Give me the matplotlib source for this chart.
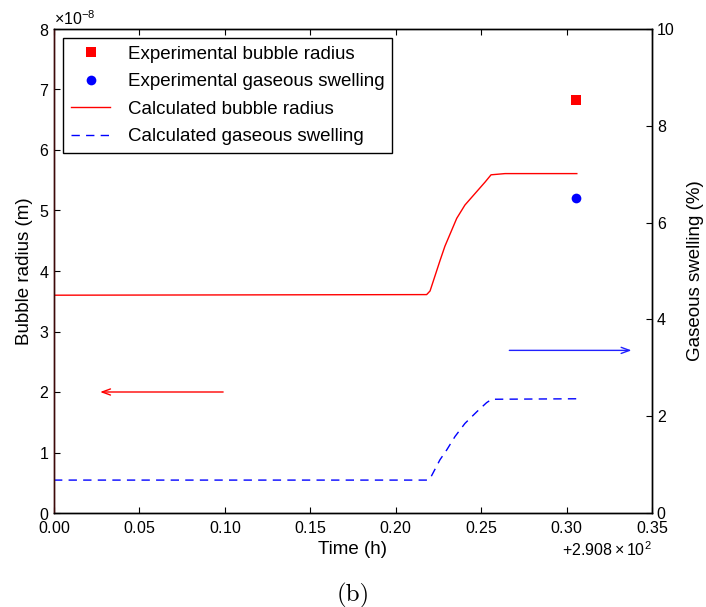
import numpy as np
import matplotlib
matplotlib.use('Agg')
import matplotlib.pyplot as plt
from matplotlib.ticker import MultipleLocator, ScalarFormatter

plt.rcParams['font.family'] = ['Liberation Sans', 'DejaVu Sans']
plt.rcParams['mathtext.fontset'] = 'custom'
plt.rcParams['mathtext.rm'] = 'Liberation Sans'
plt.rcParams['mathtext.it'] = 'Liberation Sans:italic'
plt.rcParams['mathtext.bf'] = 'Liberation Sans:bold'

# ---- data ----
time_base = 290.8  # h
# calculated bubble radius (time offset in h, radius in 1e-8 m)
calc_radius_t = [0.0, 0.2181, 0.2201, 0.2230, 0.2259, 0.2288, 0.2318, 0.2357, 0.2405,
                 0.2464, 0.2523, 0.2558, 0.2640, 0.306]
calc_radius_v = [3.60, 3.61, 3.67, 3.92, 4.17, 4.41, 4.61, 4.87, 5.09,
                 5.28, 5.47, 5.59, 5.61, 5.61]
# calculated gaseous swelling (%)
calc_swell_t = [0.0, 0.2185, 0.2201, 0.2259, 0.2298, 0.2347, 0.2405, 0.2474, 0.2532, 0.2562, 0.306]
calc_swell_v = [0.68, 0.68, 0.71, 1.10, 1.30, 1.58, 1.85, 2.09, 2.28, 2.35, 2.36]
# experimental points
exp_t = [0.3055]
exp_radius_v = [6.83]   # 1e-8 m
exp_swell_v = [6.50]    # %
# axis-indicating arrows (start, end, level)
red_arrow = (0.099, 0.027, 2.0)
blue_arrow = (0.2665, 0.338, 3.36)

labels = ['Experimental bubble radius', 'Experimental gaseous swelling',
          'Calculated bubble radius', 'Calculated gaseous swelling']

# ---- figure ----
fig = plt.figure(figsize=(7.06, 6.07), dpi=100)
ax = fig.add_axes([54/706, 94/607, 598/706, 484/607])
ax2 = ax.twinx()

t_r = time_base + np.array(calc_radius_t)
t_s = time_base + np.array(calc_swell_t)
t_e = time_base + np.array(exp_t)

h1, = ax.plot(t_e, np.array(exp_radius_v) * 1e-8, linestyle='none', marker='s',
              color='red', markersize=7, markeredgewidth=0)
h3, = ax.plot(t_r, np.array(calc_radius_v) * 1e-8, color='red', lw=1.0)
h2, = ax2.plot(t_e, exp_swell_v, linestyle='none', marker='o', color='blue',
               markersize=7, markeredgewidth=0)
h4, = ax2.plot(t_s, calc_swell_v, color='blue', lw=1.0, linestyle=(0, (6, 4.5)))

ax.annotate('', xy=(time_base + red_arrow[1], red_arrow[2] * 1e-8),
            xytext=(time_base + red_arrow[0], red_arrow[2] * 1e-8),
            arrowprops=dict(arrowstyle='->,head_length=0.6,head_width=0.22',
                            color='red', lw=1.0, shrinkA=0, shrinkB=0))
ax2.annotate('', xy=(time_base + blue_arrow[1], blue_arrow[2]),
             xytext=(time_base + blue_arrow[0], blue_arrow[2]),
             arrowprops=dict(arrowstyle='->,head_length=0.6,head_width=0.22',
                             color='#2020ff', lw=1.0, shrinkA=0, shrinkB=0))

ax.set_xlim(time_base, time_base + 0.35)
ax.set_ylim(0, 8e-8)
ax2.set_ylim(0, 10)

ax.xaxis.set_major_locator(MultipleLocator(0.05))
ax.yaxis.set_major_locator(MultipleLocator(1e-8))
ax2.yaxis.set_major_locator(MultipleLocator(2))

xfmt = ScalarFormatter(useOffset=time_base, useMathText=True)
ax.xaxis.set_major_formatter(xfmt)
yfmt = ScalarFormatter(useMathText=True)
ax.yaxis.set_major_formatter(yfmt)

tick_fs = 11.5
ax.tick_params(axis='both', direction='in', length=4, width=0.8, labelsize=tick_fs,
               top=True, right=False)
ax.tick_params(axis='x', pad=5)
ax2.tick_params(axis='y', direction='in', length=4, width=0.8, labelsize=tick_fs)
ax.xaxis.get_offset_text().set_fontsize(tick_fs)
ax.yaxis.get_offset_text().set_fontsize(tick_fs)

for a in (ax, ax2):
    for s in a.spines.values():
        s.set_linewidth(1.0)
ax.spines['left'].set_color('#3c0a0a')
ax2.spines['left'].set_color('#3c0a0a')

ax.set_xlabel('Time (h)', fontsize=13.5, labelpad=4)
ax.set_ylabel('Bubble radius (m)', fontsize=13.5, labelpad=4)
ax2.set_ylabel('Gaseous swelling (%)', fontsize=13.5, labelpad=9)

leg = ax2.legend([h1, h2, h3, h4], labels, loc='upper left', fontsize=13.5,
                 numpoints=1, fancybox=False, framealpha=1, edgecolor='black',
                 handlelength=2.1, handletextpad=0.95, labelspacing=0.55,
                 borderpad=0.4, borderaxespad=0.5)
leg.get_frame().set_linewidth(1.0)

fig.text(0.5, 1 - 595/607, '(b)', ha='center', va='center', family='cmr10', fontsize=18)

fig.savefig('out.png', dpi=100)
